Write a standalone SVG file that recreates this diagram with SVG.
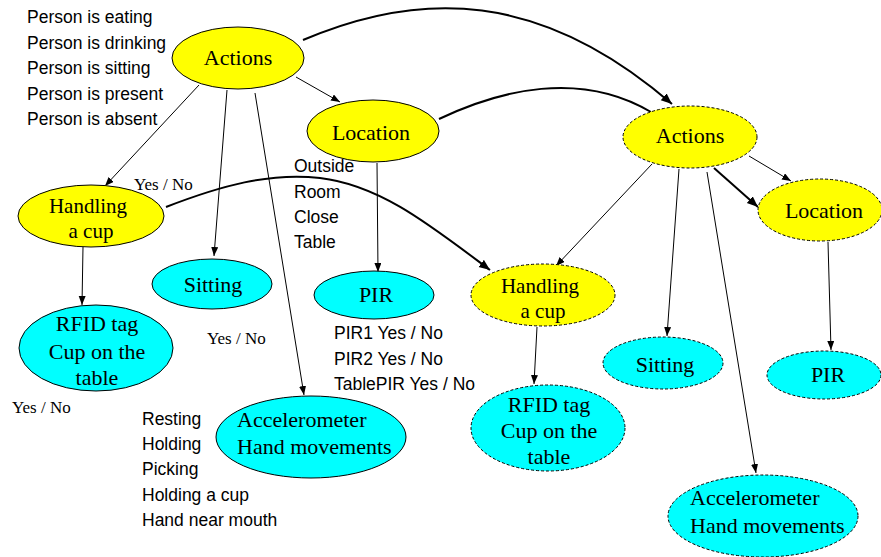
<svg xmlns="http://www.w3.org/2000/svg" width="881" height="557" viewBox="0 0 881 557">
<style>
.y{fill:#ffff00;stroke:#000;stroke-width:1}
.c{fill:#00ffff;stroke:#000;stroke-width:1}
.d{stroke-dasharray:3 2}
.n{font-family:"Liberation Serif","Times New Roman",serif;font-size:22px;fill:#000;text-anchor:middle}
.h{font-size:21px}
.st{text-anchor:start}
.l{font-family:"Liberation Sans",Arial,sans-serif;font-size:17.5px;fill:#000}
.s{font-family:"Liberation Serif","Times New Roman",serif;font-size:17px;fill:#000}
.t{fill:none;stroke:#000;stroke-width:1;marker-end:url(#a)}
.k{fill:none;stroke:#000;stroke-width:2}
.ka{marker-end:url(#b)}
</style>
<defs>
<marker id="a" markerUnits="userSpaceOnUse" markerWidth="10" markerHeight="8" refX="9" refY="3.5" orient="auto"><path d="M0,0 L9,3.5 L0,7 z" fill="#000"/></marker>
<marker id="b" markerUnits="userSpaceOnUse" markerWidth="12" markerHeight="10" refX="11" refY="4.5" orient="auto"><path d="M0,0 L11,4.5 L0,9 z" fill="#000"/></marker>
</defs>
<rect width="881" height="557" fill="#fff"/>
<g id="labels">
<text class="l" x="27" y="23">Person is eating</text>
<text class="l" x="27" y="49">Person is drinking</text>
<text class="l" x="27" y="74">Person is sitting</text>
<text class="l" x="27" y="100">Person is present</text>
<text class="l" x="27" y="125">Person is absent</text>
<text class="l" x="294" y="172">Outside</text>
<text class="l" x="294" y="198">Room</text>
<text class="l" x="294" y="223">Close</text>
<text class="l" x="294" y="248">Table</text>
<text class="l" x="334" y="339">PIR1 Yes / No</text>
<text class="l" x="334" y="365">PIR2 Yes / No</text>
<text class="l" x="334" y="390">TablePIR Yes / No</text>
<text class="l" x="142" y="425">Resting</text>
<text class="l" x="142" y="450">Holding</text>
<text class="l" x="142" y="475">Picking</text>
<text class="l" x="142" y="501">Holding a cup</text>
<text class="l" x="142" y="526">Hand near mouth</text>
<text class="s" x="134" y="190">Yes / No</text>
<text class="s" x="207" y="344">Yes / No</text>
<text class="s" x="12" y="413">Yes / No</text>
</g>
<g id="connectors">
<path class="t" d="M199,85 L105,186"/>
<path class="t" d="M227,90 L214,256"/>
<path class="t" d="M255,93 L304,395"/>
<path class="t" d="M296,77 L340,102"/>
<path class="t" d="M377,163 L378,272"/>
<path class="t" d="M83,247 L82,305"/>
<path class="k ka" d="M303,40 C420,-10 540,-10 672,104"/>
<path class="k" d="M439,119 C500,90 580,70 651,112"/>
<path class="k ka" d="M166,207 C220,186 270,172 320,178 C380,185 430,225 490,270"/>
<path class="t" d="M652,164 L556,266"/>
<path class="t" d="M679,169 L667,336"/>
<path class="t" d="M707,172 L756,473"/>
<path class="t" d="M749,156 L791,181"/>
<path class="k ka" d="M714,168 L758,207"/>
<path class="t" d="M828,242 L831,350"/>
<path class="t" d="M537,327 L534,384"/>
</g>
<g id="actions1"><ellipse class="y" cx="238" cy="58" rx="66" ry="31"/><text class="n" x="238" y="65">Actions</text></g>
<g id="location1"><ellipse class="y" cx="373" cy="131" rx="66" ry="31"/><text class="n" x="371" y="140">Location</text></g>
<g id="handling1"><ellipse class="y" cx="91" cy="216" rx="73" ry="31"/><text class="n h" x="88" y="213">Handling</text><text class="n h" x="91" y="238">a cup</text></g>
<g id="sitting1"><ellipse class="c" cx="212" cy="284" rx="60" ry="25"/><text class="n" x="213" y="292">Sitting</text></g>
<g id="pir1"><ellipse class="c" cx="374" cy="295" rx="60" ry="24"/><text class="n" x="376" y="302">PIR</text></g>
<g id="rfid1"><ellipse class="c" cx="96" cy="348" rx="77" ry="43"/><text class="n" x="97" y="331">RFID tag</text><text class="n" x="97" y="359">Cup on the</text><text class="n" x="97" y="385">table</text></g>
<g id="accel1"><ellipse class="c" cx="311" cy="437" rx="95" ry="41"/><text class="n st" x="237" y="427">Accelerometer</text><text class="n st" x="237" y="454">Hand movements</text></g>
<g id="actions2"><ellipse class="y d" cx="690" cy="137" rx="67" ry="31"/><text class="n" x="690" y="143">Actions</text></g>
<g id="location2"><ellipse class="y d" cx="820" cy="210" rx="62" ry="31"/><text class="n" x="824" y="218">Location</text></g>
<g id="handling2"><ellipse class="y d" cx="543" cy="295" rx="72" ry="31"/><text class="n h" x="540" y="293">Handling</text><text class="n h" x="543" y="318">a cup</text></g>
<g id="sitting2"><ellipse class="c d" cx="663" cy="363" rx="60" ry="26"/><text class="n" x="665" y="372">Sitting</text></g>
<g id="pir2"><ellipse class="c d" cx="824" cy="375" rx="57" ry="24"/><text class="n" x="828" y="382">PIR</text></g>
<g id="rfid2"><ellipse class="c d" cx="548" cy="428" rx="77" ry="43"/><text class="n" x="549" y="412">RFID tag</text><text class="n" x="549" y="438">Cup on the</text><text class="n" x="549" y="464">table</text></g>
<g id="accel2"><ellipse class="c d" cx="763" cy="516" rx="95" ry="41"/><text class="n st" x="690" y="505">Accelerometer</text><text class="n st" x="690" y="533">Hand movements</text></g>
</svg>
